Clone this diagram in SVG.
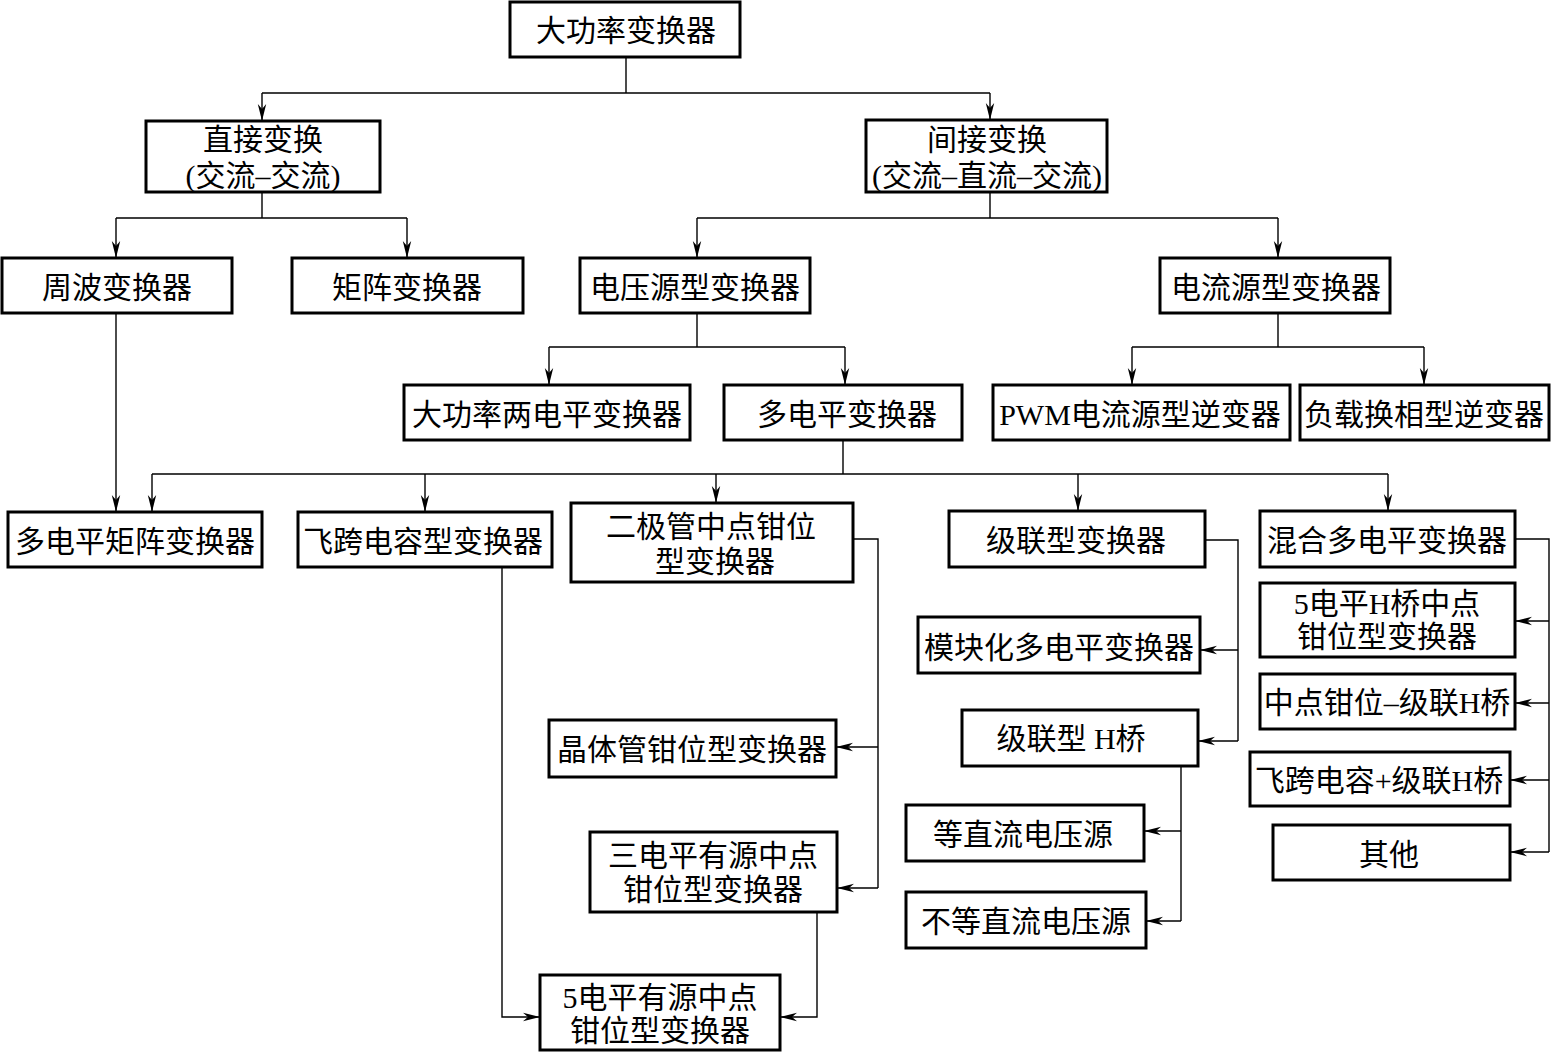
<svg xmlns="http://www.w3.org/2000/svg" width="1551" height="1053" viewBox="0 0 1551 1053">
<style>
.box{fill:#fff;stroke:#000;stroke-width:3}
.t{font-family:"Liberation Serif","Noto Sans CJK SC",serif;font-size:30px;fill:#000;text-anchor:middle;dominant-baseline:central}
.c{fill:none;stroke:#000;stroke-width:1.4}
</style>
<defs>
<marker id="a" markerUnits="userSpaceOnUse" markerWidth="18" markerHeight="10" refX="17" refY="5" orient="auto">
<path d="M0,0.8 L17,5 L0,9.2 L5,5 z" fill="#000"/>
</marker>
</defs>
<rect width="1551" height="1053" fill="#fff"/>
<g id="connectors">
<path class="c" d="M626,57 V93 M262,93 H990"/>
<path class="c" d="M262,93 V121" marker-end="url(#a)"/>
<path class="c" d="M990,93 V120" marker-end="url(#a)"/>
<path class="c" d="M262,192 V218 M116,218 H407"/>
<path class="c" d="M116,218 V258" marker-end="url(#a)"/>
<path class="c" d="M407,218 V258" marker-end="url(#a)"/>
<path class="c" d="M990,192 V218 M697,218 H1278"/>
<path class="c" d="M697,218 V258" marker-end="url(#a)"/>
<path class="c" d="M1278,218 V258" marker-end="url(#a)"/>
<path class="c" d="M697,313 V347 M549,347 H845"/>
<path class="c" d="M549,347 V385" marker-end="url(#a)"/>
<path class="c" d="M845,347 V385" marker-end="url(#a)"/>
<path class="c" d="M1278,313 V347 M1132,347 H1424"/>
<path class="c" d="M1132,347 V385" marker-end="url(#a)"/>
<path class="c" d="M1424,347 V385" marker-end="url(#a)"/>
<path class="c" d="M843,440 V474 M152,474 H1388"/>
<path class="c" d="M152,474 V512" marker-end="url(#a)"/>
<path class="c" d="M425,474 V512" marker-end="url(#a)"/>
<path class="c" d="M716,474 V503" marker-end="url(#a)"/>
<path class="c" d="M1078,474 V511" marker-end="url(#a)"/>
<path class="c" d="M1388,474 V511" marker-end="url(#a)"/>
<path class="c" d="M116,313 V512" marker-end="url(#a)"/>
<path class="c" d="M853,539 H878 V888"/>
<path class="c" d="M878,747 H836" marker-end="url(#a)"/>
<path class="c" d="M878,888 H837" marker-end="url(#a)"/>
<path class="c" d="M502,567 V1017 H540" marker-end="url(#a)"/>
<path class="c" d="M817,912 V1017 H780" marker-end="url(#a)"/>
<path class="c" d="M1205,540 H1238 V741"/>
<path class="c" d="M1238,650 H1200" marker-end="url(#a)"/>
<path class="c" d="M1238,741 H1198" marker-end="url(#a)"/>
<path class="c" d="M1181,766 V921"/>
<path class="c" d="M1181,831 H1144" marker-end="url(#a)"/>
<path class="c" d="M1181,921 H1146" marker-end="url(#a)"/>
<path class="c" d="M1515,539 H1549 V852"/>
<path class="c" d="M1549,621 H1515" marker-end="url(#a)"/>
<path class="c" d="M1549,703 H1515" marker-end="url(#a)"/>
<path class="c" d="M1549,780 H1510" marker-end="url(#a)"/>
<path class="c" d="M1549,852 H1510" marker-end="url(#a)"/>
</g>
<g id="n1"><rect class="box" x="510" y="2" width="230" height="55"/><text class="t" x="626" y="30">大功率变换器</text></g>
<g id="n2"><rect class="box" x="146" y="121" width="234" height="71"/><text class="t" x="263" y="139">直接变换</text><text class="t" x="263" y="175">(交流–交流)</text></g>
<g id="n3"><rect class="box" x="866" y="120" width="241" height="72"/><text class="t" x="987" y="139">间接变换</text><text class="t" x="987" y="175">(交流–直流–交流)</text></g>
<g id="n4"><rect class="box" x="2" y="258" width="230" height="55"/><text class="t" x="117" y="287">周波变换器</text></g>
<g id="n5"><rect class="box" x="292" y="258" width="231" height="55"/><text class="t" x="407" y="287">矩阵变换器</text></g>
<g id="n6"><rect class="box" x="580" y="258" width="230" height="55"/><text class="t" x="695" y="287">电压源型变换器</text></g>
<g id="n7"><rect class="box" x="1160" y="258" width="230" height="55"/><text class="t" x="1276" y="287">电流源型变换器</text></g>
<g id="n8"><rect class="box" x="404" y="385" width="286" height="55"/><text class="t" x="547" y="414">大功率两电平变换器</text></g>
<g id="n9"><rect class="box" x="724" y="385" width="238" height="55"/><text class="t" x="847" y="414">多电平变换器</text></g>
<g id="n10"><rect class="box" x="993" y="385" width="297" height="55"/><text class="t" x="1140" y="414">PWM电流源型逆变器</text></g>
<g id="n11"><rect class="box" x="1300" y="385" width="249" height="55"/><text class="t" x="1424" y="414">负载换相型逆变器</text></g>
<g id="n12"><rect class="box" x="8" y="512" width="254" height="55"/><text class="t" x="135" y="541">多电平矩阵变换器</text></g>
<g id="n13"><rect class="box" x="298" y="512" width="254" height="55"/><text class="t" x="423" y="541">飞跨电容型变换器</text></g>
<g id="n14"><rect class="box" x="571" y="503" width="282" height="79"/><text class="t" x="711" y="526">二极管中点钳位</text><text class="t" x="715" y="561">型变换器</text></g>
<g id="n15"><rect class="box" x="949" y="511" width="256" height="56"/><text class="t" x="1076" y="540">级联型变换器</text></g>
<g id="n16"><rect class="box" x="1260" y="511" width="255" height="56"/><text class="t" x="1387" y="540">混合多电平变换器</text></g>
<g id="n17"><rect class="box" x="918" y="617" width="282" height="56"/><text class="t" x="1059" y="647">模块化多电平变换器</text></g>
<g id="n18"><rect class="box" x="962" y="710" width="236" height="56"/><text class="t" x="1071" y="738">级联型 H桥</text></g>
<g id="n19"><rect class="box" x="1260" y="583" width="255" height="74"/><text class="t" x="1387" y="603">5电平H桥中点</text><text class="t" x="1387" y="636">钳位型变换器</text></g>
<g id="n20"><rect class="box" x="1260" y="674" width="255" height="55"/><text class="t" x="1387" y="702">中点钳位–级联H桥</text></g>
<g id="n21"><rect class="box" x="1250" y="752" width="260" height="54"/><text class="t" x="1379" y="780">飞跨电容+级联H桥</text></g>
<g id="n22"><rect class="box" x="1273" y="825" width="237" height="55"/><text class="t" x="1389" y="854">其他</text></g>
<g id="n23"><rect class="box" x="549" y="720" width="287" height="57"/><text class="t" x="692" y="749">晶体管钳位型变换器</text></g>
<g id="n24"><rect class="box" x="590" y="832" width="247" height="80"/><text class="t" x="713" y="855">三电平有源中点</text><text class="t" x="713" y="889">钳位型变换器</text></g>
<g id="n25"><rect class="box" x="540" y="975" width="240" height="75"/><text class="t" x="660" y="997">5电平有源中点</text><text class="t" x="660" y="1030">钳位型变换器</text></g>
<g id="n26"><rect class="box" x="906" y="805" width="238" height="56"/><text class="t" x="1023" y="834">等直流电压源</text></g>
<g id="n27"><rect class="box" x="906" y="892" width="240" height="56"/><text class="t" x="1026" y="921">不等直流电压源</text></g>
</svg>
